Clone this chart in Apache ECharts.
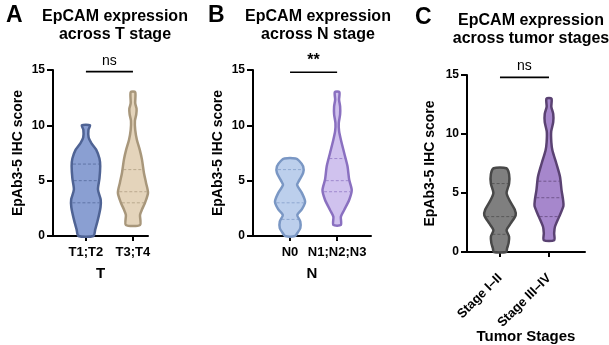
<!DOCTYPE html>
<html>
<head>
<meta charset="utf-8">
<script src="https://cdn.jsdelivr.net/npm/echarts@6/dist/echarts.min.js"></script>
<style>
  html, body { margin: 0; padding: 0; background: #fff; }
  #chart { width: 609px; height: 345px; }
</style>
</head>
<body>
<div id="chart"></div>
<script>
// categories / labels
var catsT = ['T1;T2', 'T3;T4'];
var catsN = ['N0', 'N1;N2;N3'];
var catsStage = ['Stage I\u2013II', 'Stage III\u2013IV'];
var yTicks = [0, 5, 10, 15];
var sigText = ['ns', '**', 'ns'];
var sigLevel = [14.85, 14.8, 14.8];

// violin outlines: [score, relative half width]
var violinT12 = [[0, 0.5], [0.6, 0.62], [1.5, 0.8], [2.6, 0.97], [3.3, 0.98], [4.2, 0.8], [5.2, 0.9], [6.3, 0.95], [7.0, 0.9], [7.8, 0.68], [8.4, 0.36], [8.9, 0.18], [9.6, 0.17], [10, 0.27]];
var violinT34 = [[1, 0.47], [1.9, 0.47], [2.4, 0.6], [3.0, 0.8], [3.9, 1.0], [4.8, 0.87], [5.7, 0.73], [6.9, 0.6], [7.8, 0.45], [8.7, 0.26], [9.6, 0.15], [10.4, 0.13], [11.0, 0.22], [11.5, 0.24], [12.0, 0.15], [13, 0.15]];
var violinN0 = [[0, 0.33], [0.3, 0.5], [0.7, 0.68], [1.3, 0.68], [1.9, 0.48], [2.4, 0.78], [3.1, 1.0], [3.9, 0.78], [4.6, 0.47], [5.0, 0.6], [5.7, 0.87], [6.3, 0.87], [6.8, 0.6], [7.0, 0.37]];
var violinN123 = [[1.0, 0.25], [1.75, 0.25], [2.35, 0.47], [3.25, 0.8], [4.15, 0.97], [5.1, 0.8], [6.3, 0.69], [7.5, 0.47], [8.7, 0.25], [9.5, 0.13], [10.2, 0.11], [11.0, 0.2], [11.7, 0.2], [12.3, 0.13], [13, 0.15]];
var violinStage12 = [[0, 0.4], [0.3, 0.45], [0.75, 0.55], [1.3, 0.58], [1.86, 0.42], [2.4, 0.67], [3.1, 1.0], [3.6, 0.94], [4.4, 0.6], [5.0, 0.42], [5.8, 0.58], [6.6, 0.58], [7.1, 0.4]];
var violinStage34 = [[1.0, 0.33], [1.6, 0.33], [2.14, 0.38], [3.0, 0.65], [3.9, 0.92], [4.4, 0.9], [5.25, 0.8], [6.4, 0.7], [7.5, 0.47], [8.6, 0.22], [9.3, 0.15], [10.2, 0.14], [11.0, 0.27], [11.7, 0.27], [12.3, 0.15], [13, 0.16]];

// quartiles (dashed lines)
var quartT12 = [3, 5, 6.5];
var quartT34 = [3, 4, 6];
var quartN0 = [1.5, 3, 6];
var quartN123 = [4, 5, 7];
var quartStage12 = [1.5, 3, 5.8];
var quartStage34 = [3, 4.6, 6];

var FONT = 'Liberation Sans, Arial, sans-serif';
var HALF = 0.32;

var panels = [
  { profiles: [violinT12, violinT34], quarts: [quartT12, quartT34],
    fills: ['#8a9fd2', '#e4d4bb'], strokes: ['#4f6394', '#a8977b'] },
  { profiles: [violinN0, violinN123], quarts: [quartN0, quartN123],
    fills: ['#bccfec', '#d0c2ee'], strokes: ['#7a97c4', '#8a70c0'] },
  { profiles: [violinStage12, violinStage34], quarts: [quartStage12, quartStage34],
    fills: ['#7f7f7f', '#a687cc'], strokes: ['#484848', '#5a4272'] }
];

function widthAt(prof, v) {
  for (var i = 0; i < prof.length - 1; i++) {
    if (v >= prof[i][0] && v <= prof[i + 1][0]) {
      var t = (v - prof[i][0]) / (prof[i + 1][0] - prof[i][0]);
      return prof[i][1] + t * (prof[i + 1][1] - prof[i][1]);
    }
  }
  return 0;
}

function violinRender(panel) {
  return function (params, api) {
    var i = params.dataIndex;
    var cx = api.value(0);
    var prof = panel.profiles[i];
    var pts = [];
    prof.forEach(function (p) { pts.push(api.coord([cx + p[1] * HALF, p[0]])); });
    for (var k = prof.length - 1; k >= 0; k--) {
      pts.push(api.coord([cx - prof[k][1] * HALF, prof[k][0]]));
    }
    var children = [{
      type: 'polygon',
      shape: { points: pts, smooth: 0.25 },
      style: { fill: panel.fills[i], stroke: panel.strokes[i], lineWidth: 2.5 }
    }];
    panel.quarts[i].forEach(function (q) {
      var w = widthAt(prof, q) * HALF * 0.92;
      var a = api.coord([cx - w, q]);
      var b = api.coord([cx + w, q]);
      children.push({
        type: 'line',
        shape: { x1: a[0], y1: a[1], x2: b[0], y2: b[1] },
        style: { stroke: panel.strokes[i], lineWidth: 1, lineDash: [3, 2], opacity: 0.7 }
      });
    });
    return { type: 'group', children: children };
  };
}

function sigRender(text) {
  return function (params, api) {
    var a = api.coord([api.value(0), api.value(2)]);
    var b = api.coord([api.value(1), api.value(2)]);
    return {
      type: 'group',
      children: [
        { type: 'line', shape: { x1: a[0], y1: a[1], x2: b[0], y2: b[1] },
          style: { stroke: '#000', lineWidth: 1.6 } },
        { type: 'text', x: (a[0] + b[0]) / 2, y: a[1] - 4,
          style: { text: text, fill: '#000', font: (text === '**' ? 'bold 16px ' : '14px ') + FONT,
                   textAlign: 'center', textVerticalAlign: 'bottom' } }
      ]
    };
  };
}

var grids = [
  { left: 53, top: 70, width: 95, height: 166, outerBoundsMode: 'none', containLabel: false },
  { left: 253, top: 70, width: 118, height: 166, outerBoundsMode: 'none', containLabel: false },
  { left: 467, top: 75, width: 118, height: 177, outerBoundsMode: 'none', containLabel: false }
];
var xRange = [[-0.7, 1.32], [-0.787, 1.72], [-0.673, 1.735]];
var xCats = [catsT, catsN, catsStage];
var xNames = ['T', 'N', 'Tumor Stages'];

var xAxes = [], yAxes = [], series = [];
for (var g = 0; g < 3; g++) {
  (function (g) {
    xAxes.push({
      gridIndex: g, type: 'value', min: xRange[g][0], max: xRange[g][1],
      splitLine: { show: false },
      axisLine: { show: true, onZero: false, lineStyle: { color: '#000', width: 2 } },
      axisTick: { show: true, customValues: [0, 1], length: 5, lineStyle: { color: '#000', width: 2 } },
      axisLabel: {
        customValues: [0, 1], color: '#000', fontWeight: 'bold', fontSize: 13, fontFamily: FONT,
        margin: g === 2 ? 24 : 10, rotate: g === 2 ? 45 : 0,
        formatter: function (v) { return xCats[g][Math.round(v)]; }
      },
      name: xNames[g], nameLocation: 'middle', nameGap: g === 2 ? 77 : 30,
      nameMoveOverlap: false,
      nameTextStyle: { color: '#000', fontWeight: 'bold', fontSize: 15, fontFamily: FONT }
    });
    yAxes.push({
      gridIndex: g, type: 'value', min: 0, max: 15, interval: 5,
      splitLine: { show: false },
      axisLine: { show: true, onZero: false, lineStyle: { color: '#000', width: 2 } },
      axisTick: { show: true, length: 6, lineStyle: { color: '#000', width: 2 } },
      axisLabel: { color: '#000', fontWeight: 'bold', fontSize: 12, fontFamily: FONT, margin: 8,
        formatter: function (v) { return yTicks.indexOf(v) >= 0 ? String(v) : ''; } },
      name: 'EpAb3-5 IHC score', nameLocation: 'middle', nameGap: g === 2 ? 30 : 28,
      nameMoveOverlap: false,
      nameTextStyle: { color: '#000', fontWeight: 'bold', fontSize: 14, fontFamily: FONT }
    });
    series.push({
      type: 'custom', xAxisIndex: g, yAxisIndex: g,
      renderItem: violinRender(panels[g]),
      data: [[0, 0], [1, 0]], clip: false, silent: true
    });
    series.push({
      type: 'custom', xAxisIndex: g, yAxisIndex: g,
      renderItem: sigRender(sigText[g]),
      encode: { x: [0, 1], y: 2 },
      data: [[0, 1, sigLevel[g]]], clip: false, silent: true
    });
  })(g);
}

var titleStyle = { color: '#000', fontWeight: 'bold', fontSize: 16, lineHeight: 18, fontFamily: FONT };
var letterStyle = { color: '#000', fontWeight: 'bold', fontSize: 23, fontFamily: FONT };

var option = {
  animation: false,
  backgroundColor: '#fff',
  title: [
    { text: 'A', left: 1, top: -1, textStyle: letterStyle },
    { text: 'B', left: 203, top: -1, textStyle: letterStyle },
    { text: 'C', left: 410, top: 1, textStyle: letterStyle },
    { text: 'EpCAM expression\nacross T stage', left: 110, top: 3, textAlign: 'center', textStyle: titleStyle },
    { text: 'EpCAM expression\nacross N stage', left: 313, top: 3, textAlign: 'center', textStyle: titleStyle },
    { text: 'EpCAM expression\nacross tumor stages', left: 526, top: 7, textAlign: 'center', textStyle: titleStyle }
  ],
  grid: grids,
  xAxis: xAxes,
  yAxis: yAxes,
  series: series
};

var myChart = echarts.init(document.getElementById('chart'));
option && myChart.setOption(option);
</script>
</body>
</html>
